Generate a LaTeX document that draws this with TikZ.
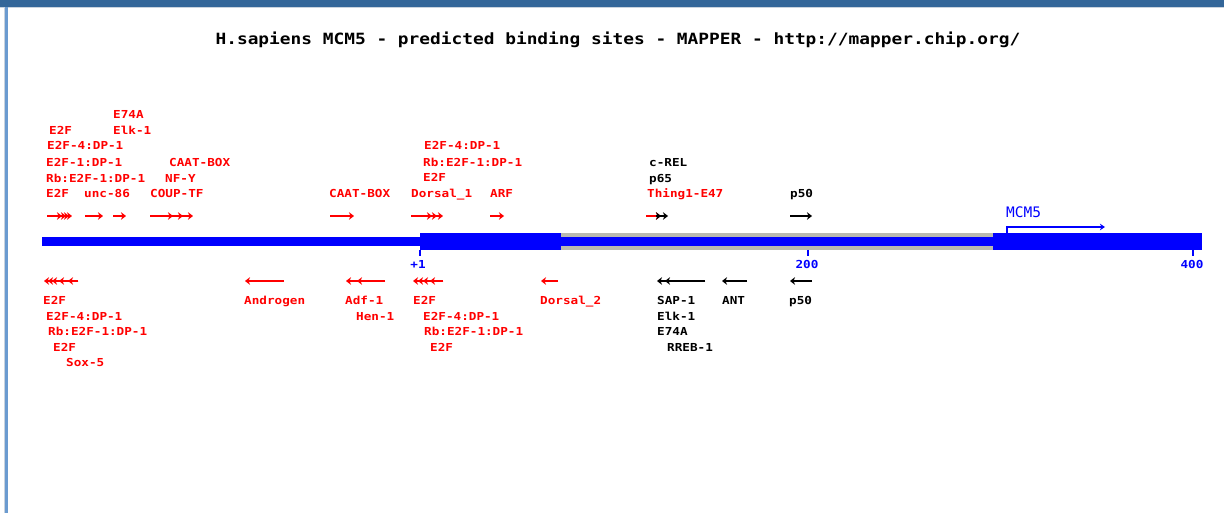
\documentclass[tikz,border=0pt]{standalone}
\usepackage{fontspec}
\usetikzlibrary{arrows.meta}

\newfontfamily\mapfont[FakeStretch=1.15]{DejaVu Sans Mono}
\newfontfamily\genefont{DejaVu Sans Mono}
\newcommand\lblsize{\fontsize{11}{13}\selectfont}
\newcommand\ttlsize{\fontsize{15.5}{18}\selectfont}

\definecolor{barblue}{HTML}{336699}
\definecolor{edgeblue}{HTML}{6B9BD0}
\definecolor{edgegray}{HTML}{C9D3DE}
\definecolor{seqblue}{HTML}{0000FF}
\definecolor{sitered}{HTML}{FF0000}
\definecolor{utrgray}{HTML}{B9B9B0}

\begin{document}
\begin{tikzpicture}[
  x=1pt, y=-1pt,
  every node/.style={inner sep=0pt},
  lbl/.style={anchor=base west, font=\mapfont\bfseries\lblsize},
  tfr/.style={lbl, text=sitered},
  tfk/.style={lbl, text=black},
  poslbl/.style={anchor=base, font=\mapfont\bfseries\lblsize, text=seqblue},
  fwd/.style={draw, line width=1.4pt, -{Stealth[length=5pt,width=7.5pt,inset=1.5pt]}},
  seqtick/.style={draw=seqblue, line width=1.2pt}]

  \useasboundingbox (0,0) rectangle (1224,513);

  % ---- frame --------------------------------------------------------------
  \fill[barblue] (0,0) rectangle (1224,7);
  \fill[edgegray] (0,7) rectangle (1224,8.5);
  \fill[edgegray] (3.5,7) rectangle (5,513);
  \fill[edgeblue] (5,7) rectangle (7.5,513);

  \node[font=\mapfont\bfseries\ttlsize, anchor=base] (title) at (618,45)
    {H.sapiens MCM5 - predicted binding sites - MAPPER - http://mapper.chip.org/};

  % ---- sequence -----------------------------------------------------------
  \fill[utrgray] (561,232.7) rectangle (993,250.5);
  \fill[seqblue] (42,236.8) rectangle (993,245.8);
  \fill[seqblue] (420,232.7) rectangle (561,250.5);
  \fill[seqblue] (993,232.7) rectangle (1202,250.5);

  \draw[seqtick] (420,250) -- (420,256);
  \draw[seqtick] (808,250) -- (808,256.5);
  \draw[seqtick] (1193,250) -- (1193,256.5);
  \node[poslbl] (p1)   at (418,269)  {+1};
  \node[poslbl] (p200) at (807,269)  {200};
  \node[poslbl] (p400) at (1192,269) {400};

  % gene start
  \node[anchor=base west, font=\genefont\fontsize{14.5}{16}\selectfont, text=seqblue]
    (mcm) at (1006,218) {MCM5};
  \draw[seqblue, line width=1.2pt, -{Stealth[length=5pt,width=6.5pt,inset=1.5pt]}]
    (1007,233) -- (1007,227) -- (1105,227);

  % ---- sites on the + strand ----------------------------------------------
  \node[tfr] (e74a)  at (113,119) {E74A};
  \node[tfr] (e2fa)  at (49,135)  {E2F};
  \node[tfr] (elk)   at (113,135) {Elk-1};
  \node[tfr] (e2f4a) at (47,150)  {E2F-4:DP-1};
  \node[tfr] (e2f1)  at (46,167)  {E2F-1:DP-1};
  \node[tfr] (caata) at (169,167) {CAAT-BOX};
  \node[tfr] (rba)   at (46,183)  {Rb:E2F-1:DP-1};
  \node[tfr] (nfy)   at (165,183) {NF-Y};
  \node[tfr] (e2fb)  at (46,198)  {E2F};
  \node[tfr] (unc)   at (84,198)  {unc-86};
  \node[tfr] (coup)  at (150,198) {COUP-TF};

  \node[tfr] (e2f4b) at (424,150) {E2F-4:DP-1};
  \node[tfr] (rbb)   at (423,167) {Rb:E2F-1:DP-1};
  \node[tfr] (e2fc)  at (423,182) {E2F};
  \node[tfr] (caatb) at (329,198) {CAAT-BOX};
  \node[tfr] (dors1) at (411,198) {Dorsal\_1};
  \node[tfr] (arf)   at (490,198) {ARF};

  \node[tfk] (crel)  at (649,167) {c-REL};
  \node[tfk] (p65)   at (649,183) {p65};
  \node[tfr] (thing) at (647,198) {Thing1-E47};
  \node[tfk] (p50a)  at (790,198) {p50};

  \foreach \x in {62,66,69,72} \draw[fwd, sitered] (47,216) -- (\x,216);
  \draw[fwd, sitered] (85,216) -- (103,216);
  \draw[fwd, sitered] (113,216) -- (126,216);
  \foreach \x in {173,183,193} \draw[fwd, sitered] (150,216) -- (\x,216);
  \draw[fwd, sitered] (330,216) -- (354,216);
  \foreach \x in {432,437,443} \draw[fwd, sitered] (411,216) -- (\x,216);
  \draw[fwd, sitered] (490,216) -- (504,216);
  \draw[fwd, sitered] (646,216) -- (661,216);
  \foreach \x in {661,668} \draw[fwd, black] (656,216) -- (\x,216);
  \draw[fwd, black] (790,216) -- (812,216);

  % ---- sites on the - strand ----------------------------------------------
  \foreach \x in {44,48,52,59,68} \draw[fwd, sitered] (78,281) -- (\x,281);
  \draw[fwd, sitered] (284,281) -- (245,281);
  \foreach \x in {346,357} \draw[fwd, sitered] (385,281) -- (\x,281);
  \foreach \x in {413,418,423,430} \draw[fwd, sitered] (443,281) -- (\x,281);
  \draw[fwd, sitered] (558,281) -- (541,281);
  \foreach \x in {657,665} \draw[fwd, black] (705,281) -- (\x,281);
  \draw[fwd, black] (747,281) -- (722,281);
  \draw[fwd, black] (812,281) -- (790,281);

  \node[tfr] (e2fd)  at (43,305)  {E2F};
  \node[tfr] (e2f4c) at (46,320)  {E2F-4:DP-1};
  \node[tfr] (rbc)   at (48,335)  {Rb:E2F-1:DP-1};
  \node[tfr] (e2fe)  at (53,351)  {E2F};
  \node[tfr] (sox)   at (66,366)  {Sox-5};
  \node[tfr] (andr)  at (244,305) {Androgen};
  \node[tfr] (adf)   at (345,305) {Adf-1};
  \node[tfr] (hen)   at (356,320) {Hen-1};
  \node[tfr] (e2ff)  at (413,305) {E2F};
  \node[tfr] (e2f4d) at (423,320) {E2F-4:DP-1};
  \node[tfr] (rbd)   at (424,335) {Rb:E2F-1:DP-1};
  \node[tfr] (e2fg)  at (430,351) {E2F};
  \node[tfr] (dors2) at (540,305) {Dorsal\_2};

  \node[tfk] (sap)   at (657,305) {SAP-1};
  \node[tfk] (ant)   at (722,305) {ANT};
  \node[tfk] (p50b)  at (789,305) {p50};
  \node[tfk] (elkb)  at (657,320) {Elk-1};
  \node[tfk] (e74b)  at (657,335) {E74A};
  \node[tfk] (rreb)  at (667,351) {RREB-1};
\end{tikzpicture}
\end{document}
